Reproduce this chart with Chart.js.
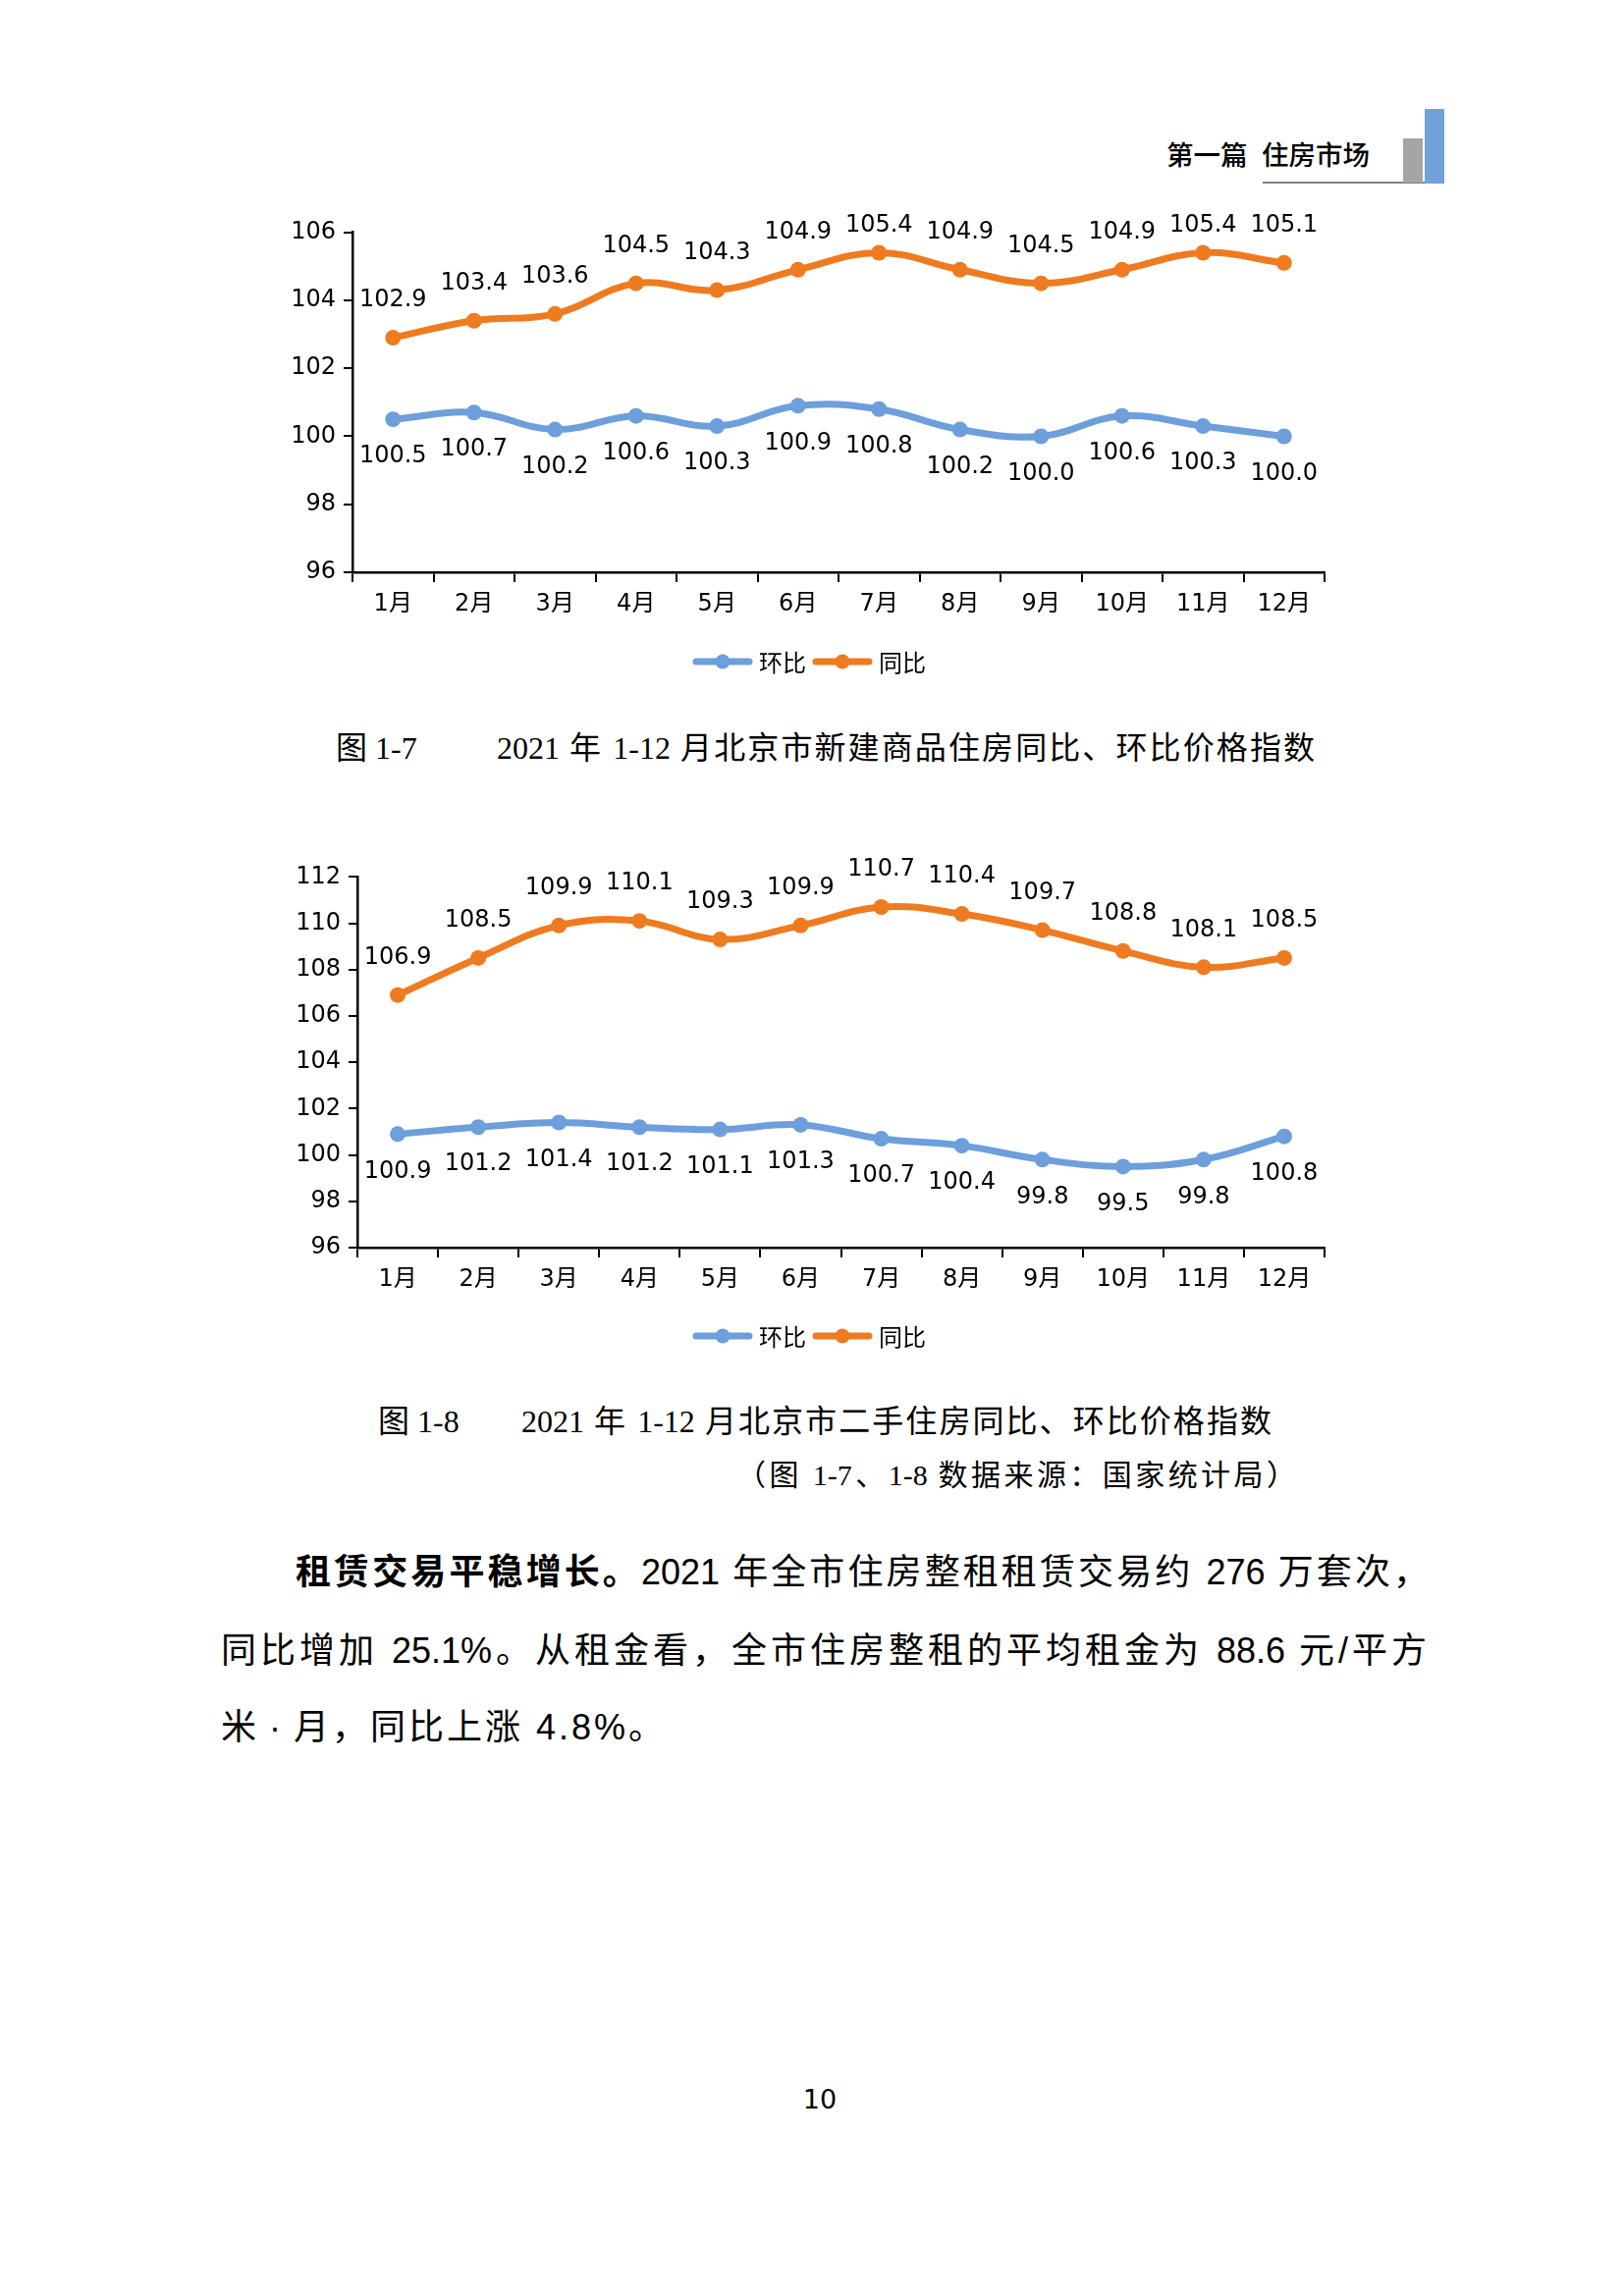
<!DOCTYPE html>
<html lang="zh-CN">
<head>
<meta charset="utf-8">
<title>2021年北京市住房价格指数</title>
<script src="https://cdn.jsdelivr.net/npm/chart.js@4.4.1/dist/chart.umd.min.js"></script>
<style>
  html, body { margin: 0; padding: 0; background: #fff; }
  body { width: 1654px; height: 2339px; position: relative; overflow: hidden;
         font-family: "Liberation Serif", "Noto Sans CJK SC", serif; color: #000; }
  .abs { position: absolute; white-space: nowrap; }
  .hdr { font-family: "Noto Sans CJK SC", sans-serif; font-size: 27.5px; font-weight: 500; line-height: 36px; }
  .cap { font-size: 32px; line-height: 44px; }
  .just { text-align: justify; text-align-last: justify; }
  .body { font-family: "Liberation Sans", "Noto Sans CJK SC", sans-serif; font-size: 36px; line-height: 50px; }
  canvas { position: absolute; }
</style>
</head>
<body>

<!-- page header -->
<div class="abs hdr" style="left:1188px; top:138px;">第一篇</div>
<div class="abs hdr" style="left:1285px; top:138px;">住房市场</div>
<div class="abs" style="left:1286px; top:185px; width:181px; height:2px; background:#808080;"></div>
<div class="abs" style="left:1429px; top:141px; width:20px; height:45px; background:#a5a5a5;"></div>
<div class="abs" style="left:1451px; top:111px; width:20px; height:76px; background:#70a1da;"></div>

<canvas id="chart1" width="1130" height="520" style="left:250px; top:190px;"></canvas>

<div class="abs cap" style="left:342px; top:740px;">图 1-7</div>
<div class="abs cap just" style="left:506px; top:740px; width:833px;">2021 年 1-12 月北京市新建商品住房同比、环比价格指数</div>

<canvas id="chart2" width="1130" height="560" style="left:250px; top:840px;"></canvas>

<div class="abs cap" style="left:385px; top:1426px;">图 1-8</div>
<div class="abs cap just" style="left:531px; top:1426px; width:764px;">2021 年 1-12 月北京市二手住房同比、环比价格指数</div>
<div class="abs just" style="left:750px; top:1482px; width:570px; font-size:30px; line-height:42px;">（图 1-7、1-8 数据来源：国家统计局）</div>

<!-- body text -->
<div class="abs body just" style="left:301px; top:1577px; width:1154px;"><b style="font-weight:700;">租赁交易平稳增长。</b>2021 年全市住房整租租赁交易约 276 万套次，</div>
<div class="abs body just" style="left:225px; top:1657px; width:1228px;">同比增加 25.1%。从租金看，全市住房整租的平均租金为 88.6 元/平方</div>
<div class="abs body" style="left:225px; top:1735px; letter-spacing:3px;">米<span style="margin:0 10px;">·</span>月，同比上涨 4.8%。</div>

<div class="abs" style="left:785px; top:2119px; width:100px; text-align:center; font-family:'DejaVu Sans'; font-size:27px; line-height:40px;">10</div>

<script>
// ---- data ----
var months = ['1月', '2月', '3月', '4月', '5月', '6月', '7月', '8月', '9月', '10月', '11月', '12月'];
var seriesNames = ['环比', '同比'];

// 图1-7 新建商品住房
var newHuanbi = [100.5, 100.7, 100.2, 100.6, 100.3, 100.9, 100.8, 100.2, 100.0, 100.6, 100.3, 100.0];
var newTongbi = [102.9, 103.4, 103.6, 104.5, 104.3, 104.9, 105.4, 104.9, 104.5, 104.9, 105.4, 105.1];
var newRange = [96, 106];

// 图1-8 二手住房
var usedHuanbi = [100.9, 101.2, 101.4, 101.2, 101.1, 101.3, 100.7, 100.4, 99.8, 99.5, 99.8, 100.8];
var usedTongbi = [106.9, 108.5, 109.9, 110.1, 109.3, 109.9, 110.7, 110.4, 109.7, 108.8, 108.1, 108.5];
var usedRange = [96, 112];

var BLUE = '#6c9fdb';
var ORANGE = '#ef7b21';
var TICK_FONT = { family: "'DejaVu Sans', 'Noto Sans CJK SC'", size: 24 };

// value labels above (同比) / below (环比) each point
var valueLabels = {
    id: 'valueLabels',
    afterDatasetsDraw: function (chart, args, opts) {
        var ctx = chart.ctx;
        ctx.save();
        ctx.font = '24px "DejaVu Sans"';
        ctx.fillStyle = '#000';
        ctx.textAlign = 'center';
        ctx.textBaseline = 'middle';
        chart.data.datasets.forEach(function (ds, i) {
            var meta = chart.getDatasetMeta(i);
            meta.data.forEach(function (pt, j) {
                var y;
                if (ds.labelPos == 'below') {
                    y = pt.y + opts.gap;
                } else {
                    y = Math.max(pt.y - opts.gap, opts.minY);
                }
                ctx.fillText(ds.data[j].toFixed(1), pt.x, y);
            });
        });
        ctx.restore();
    }
};

// legend: line with marker + name
var lineLegend = {
    id: 'lineLegend',
    afterDraw: function (chart, args, opts) {
        var ctx = chart.ctx;
        ctx.save();
        ctx.font = '24px "Noto Sans CJK SC"';
        ctx.textBaseline = 'middle';
        ctx.textAlign = 'left';
        chart.data.datasets.forEach(function (ds, i) {
            var x0 = opts.xs[i];
            var y = opts.y;
            ctx.strokeStyle = ds.borderColor;
            ctx.lineWidth = 7;
            ctx.lineCap = 'round';
            ctx.beginPath();
            ctx.moveTo(x0 + 3, y);
            ctx.lineTo(x0 + 57, y);
            ctx.stroke();
            ctx.fillStyle = ds.borderColor;
            ctx.beginPath();
            ctx.arc(x0 + 30, y, 7.5, 0, Math.PI * 2);
            ctx.fill();
            ctx.fillStyle = '#000';
            ctx.fillText(ds.label, x0 + 67, y + 1);
        });
        ctx.restore();
    }
};

function makeChart(id, huanbi, tongbi, range, layout) {
    var ctx = document.getElementById(id).getContext('2d');
    return new Chart(ctx, {
        type: 'line',
        data: {
            labels: months,
            datasets: [{
                label: seriesNames[0],
                data: huanbi,
                borderColor: BLUE,
                backgroundColor: BLUE,
                labelPos: 'below'
            }, {
                label: seriesNames[1],
                data: tongbi,
                borderColor: ORANGE,
                backgroundColor: ORANGE,
                labelPos: 'above'
            }]
        },
        options: {
            responsive: false,
            animation: false,
            devicePixelRatio: 1,
            layout: {
                padding: { top: layout.padTop, right: layout.padRight, left: 0, bottom: 0 }
            },
            elements: {
                line: { borderWidth: 7, tension: 0.4, cubicInterpolationMode: 'default' },
                point: { radius: 8, borderWidth: 0, pointStyle: 'circle' }
            },
            scales: {
                x: {
                    offset: true,
                    grid: { offset: true, drawOnChartArea: false, drawTicks: true, tickLength: 10, color: '#000', lineWidth: 2 },
                    border: { display: true, color: '#000', width: 2.5 },
                    ticks: { color: '#000', font: TICK_FONT, padding: 8, maxRotation: 0, autoSkip: false },
                    afterFit: function (scale) { scale.height = layout.xHeight; }
                },
                y: {
                    min: range[0],
                    max: range[1],
                    grid: { drawOnChartArea: false, drawTicks: true, tickLength: 9, color: '#000', lineWidth: 2 },
                    border: { display: true, color: '#000', width: 2.5 },
                    ticks: { stepSize: 2, color: '#000', font: TICK_FONT, padding: 8 },
                    afterFit: function (scale) { scale.width = layout.yWidth; }
                }
            },
            plugins: {
                legend: { display: false },
                tooltip: { enabled: false },
                valueLabels: { gap: 38, minY: layout.labelMinY },
                lineLegend: { xs: [456, 578], y: layout.legendY }
            }
        },
        plugins: [valueLabels, lineLegend]
    });
}

makeChart('chart1', newHuanbi, newTongbi, newRange,
    { padTop: 46.7, padRight: 31, yWidth: 109, xHeight: 127, legendY: 484, labelMinY: 40 });
makeChart('chart2', usedHuanbi, usedTongbi, usedRange,
    { padTop: 53.3, padRight: 31, yWidth: 114, xHeight: 129, legendY: 521, labelMinY: 0 });
</script>
</body>
</html>
